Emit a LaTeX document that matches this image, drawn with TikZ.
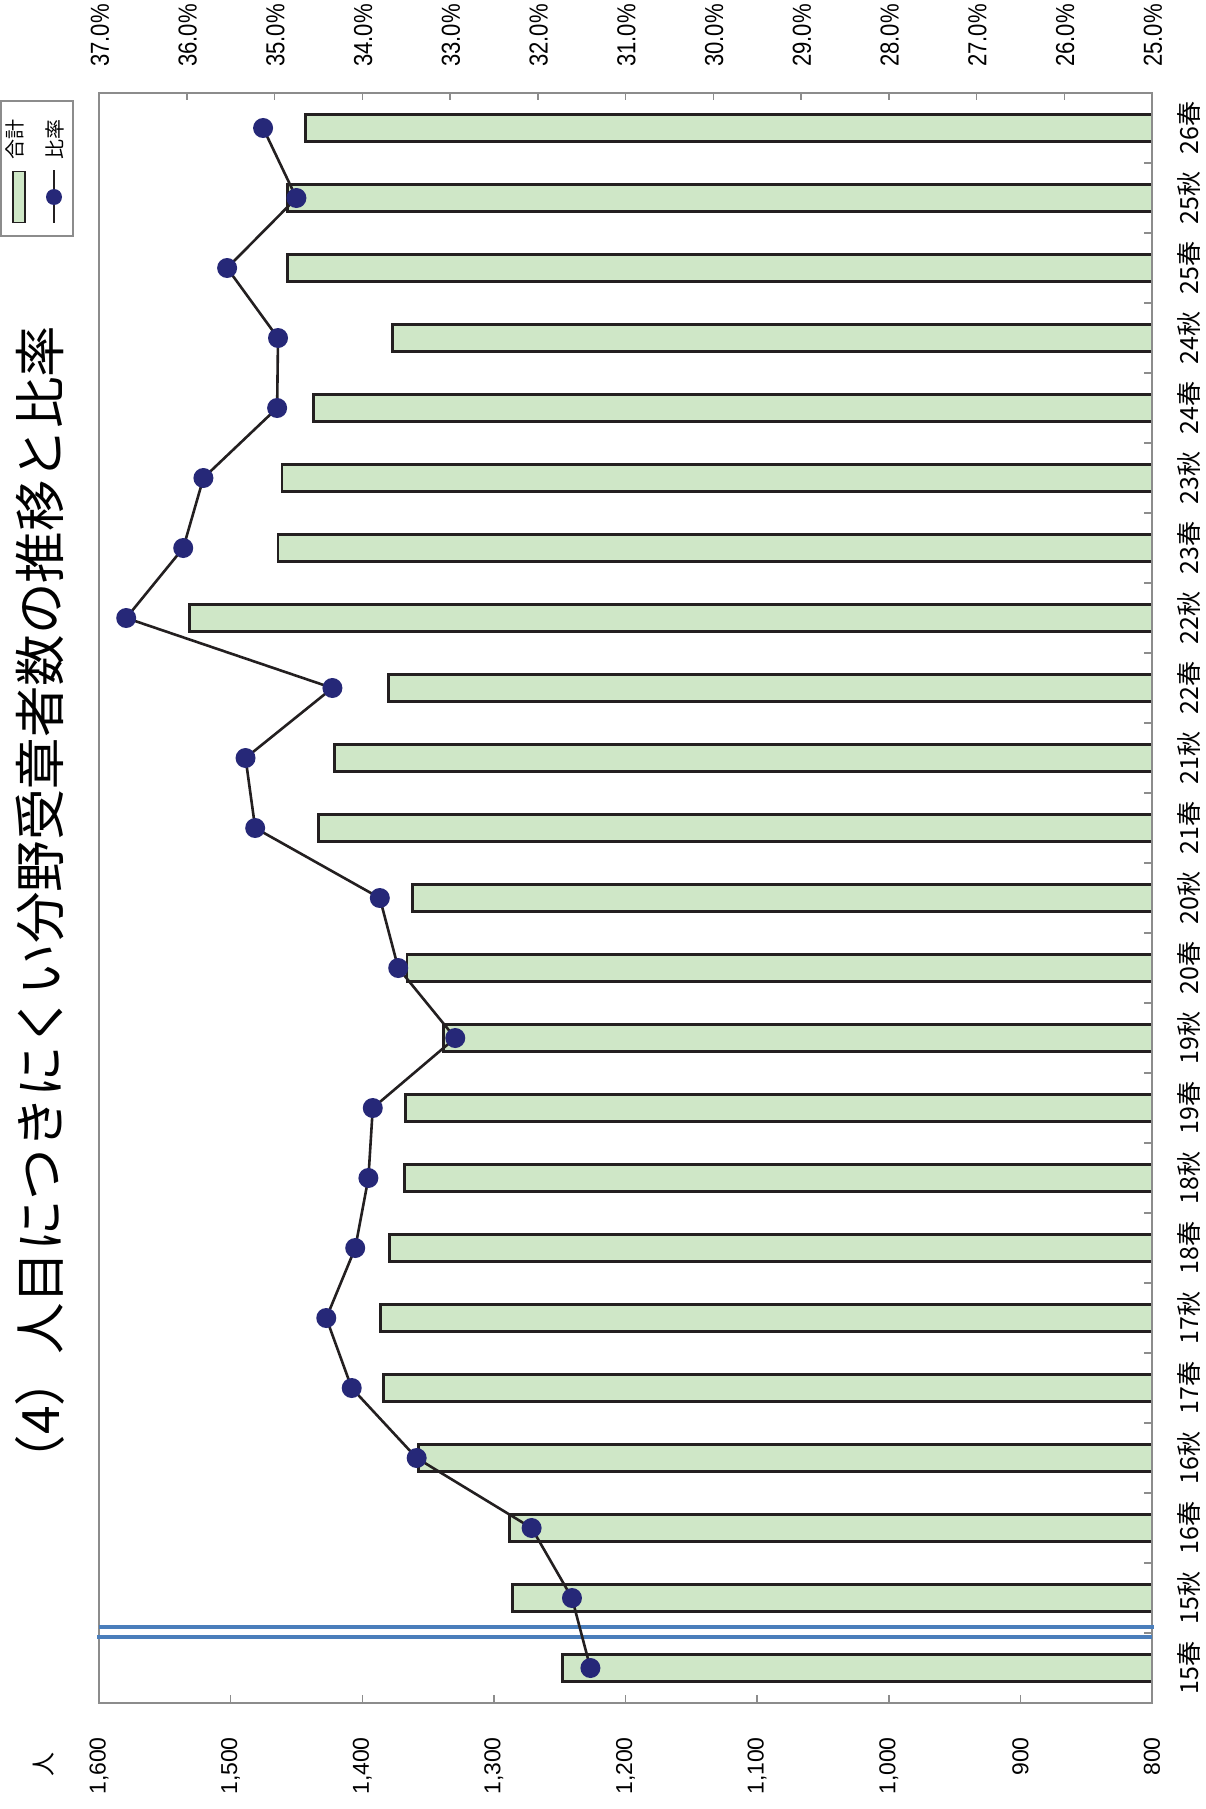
\documentclass[tikz,border=0pt]{standalone}
\usepackage{fontspec}
\setmainfont{Liberation Sans}
\newfontfamily\jp{Noto Sans CJK JP}
\definecolor{barfill}{RGB}{207,231,199}
\definecolor{dotcol}{RGB}{38,40,120}
\definecolor{linecol}{RGB}{35,31,32}
\definecolor{brk}{RGB}{74,126,187}
\definecolor{framecol}{RGB}{140,140,140}
\tikzset{
  barbox/.style={draw=linecol, fill=barfill, line width=2.8},
  dotnode/.style={circle, fill=dotcol, inner sep=0pt, minimum size=20},
  serline/.style={draw=linecol, line width=2.6},
  frameline/.style={draw=framecol, line width=2.5},
  tickline/.style={draw=framecol, line width=1.5},
  brkline/.style={draw=brk, line width=4},
  pctlab/.style={rotate=90, anchor=west, inner sep=0pt, font=\fontsize{26}{28}\selectfont},
  cntlab/.style={rotate=90, anchor=east, inner sep=0pt, font=\fontsize{23}{25}\selectfont},
  catlab/.style={rotate=90, inner sep=0pt, font=\jp\fontsize{25}{27}\selectfont},
  titlelab/.style={rotate=90, inner sep=0pt, font=\jp\fontsize{51.5}{55}\selectfont},
  leglab/.style={rotate=90, inner sep=0pt, font=\jp\fontsize{20}{22}\selectfont},
}
\begin{document}
\begin{tikzpicture}[x=1pt,y=-1pt]
\useasboundingbox (0,0) rectangle (1205,1809);
\fill[white] (0,0) rectangle (1205,1809);

% title
\node[titlelab] (title) at (40,906) {（4）人目につきにくい分野受章者数の推移と比率};

% legend
\draw[framecol, line width=1.2] (1,101) rectangle (73,236);
\node[draw=linecol, fill=barfill, line width=1.8, inner sep=0pt, minimum width=12, minimum height=51] (legbar) at (19,197) {};
\node[leglab] (legbartxt) at (15,140) {合計};
\coordinate (legla) at (54,170);
\coordinate (leglb) at (54,223);
\draw[serline, line width=2] (legla) -- (leglb);
\node[dotnode, minimum size=16] (legdot) at (54,197) {};
\node[leglab] (leglinetxt) at (55,140) {比率};

% ticks
\foreach \k in {1,...,11} \draw[tickline] ({99+87.75*\k},93) -- ++(0,7);
\foreach \k in {1,...,7} \draw[tickline] ({99+131.625*\k},1703) -- ++(0,-8);
\foreach \k in {1,...,22} \draw[tickline] (1152,{1703-70*\k}) -- ++(-8,0);

% percent labels
\foreach \k/\t in {0/37.0,1/36.0,2/35.0,3/34.0,4/33.0,5/32.0,6/31.0,7/30.0,8/29.0,9/28.0,10/27.0,11/26.0,12/25.0}
  \node[pctlab] (p\k) at ({100+87.75*\k},67) {\scalebox{0.85}[1]{\t\%}};

% count labels
\foreach \k/\t in {0/{1,600},1/{1,500},2/{1,400},3/{1,300},4/{1,200},5/{1,100},6/{1,000},7/900,8/800}
  \node[cntlab] (n\k) at ({99+131.625*\k},1737) {\t};
\node[font=\jp\fontsize{24}{26}\selectfont, rotate=90, inner sep=0pt] (unit) at (44,1764) {人};

% bars
\foreach \i/\v in {0/1248,1/1286,2/1288,3/1357,4/1384,5/1386,6/1379,7/1368,8/1367,9/1338,10/1366,11/1362,12/1433,13/1421,14/1380,15/1531,16/1464,17/1461,18/1437,19/1377,20/1457,21/1457,22/1443}
  \draw[barbox] ({1152-(\v-800)*1.31625},{1668-70*\i-13.5}) rectangle (1152,{1668-70*\i+13.5});

% frame
\draw[frameline] (99,93) rectangle (1152,1703);

% axis break
\coordinate (bka1) at (99,1627);
\coordinate (bka2) at (1154,1627);
\coordinate (bkb1) at (97,1637);
\coordinate (bkb2) at (1152,1637);
\draw[brkline] (bka1) -- (bka2);
\draw[brkline] (bkb1) -- (bkb2);

% category labels
\foreach \i/\t in {0/15春,1/15秋,2/16春,3/16秋,4/17春,5/17秋,6/18春,7/18秋,8/19春,9/19秋,10/20春,11/20秋,12/21春,13/21秋,14/22春,15/22秋,16/23春,17/23秋,18/24春,19/24秋,20/25春,21/25秋,22/26春}
  \node[catlab] (c\i) at (1189,{1668-70*\i}) {\t};

% ratio series
\foreach \i/\p in {0/31.40,1/31.61,2/32.07,3/33.38,4/34.12,5/34.41,6/34.08,7/33.93,8/33.88,9/32.94,10/33.59,11/33.80,12/35.22,13/35.33,14/34.34,15/36.69,16/36.04,17/35.81,18/34.97,19/34.96,20/35.54,21/34.75,22/35.13}
  \coordinate (r\i) at ({1152-(\p-25)*87.75},{1668-70*\i});
\draw[serline] (r0) \foreach \i in {1,...,22} { -- (r\i) };
\foreach \i in {0,...,22} \node[dotnode] (d\i) at (r\i) {};
\end{tikzpicture}
\end{document}
